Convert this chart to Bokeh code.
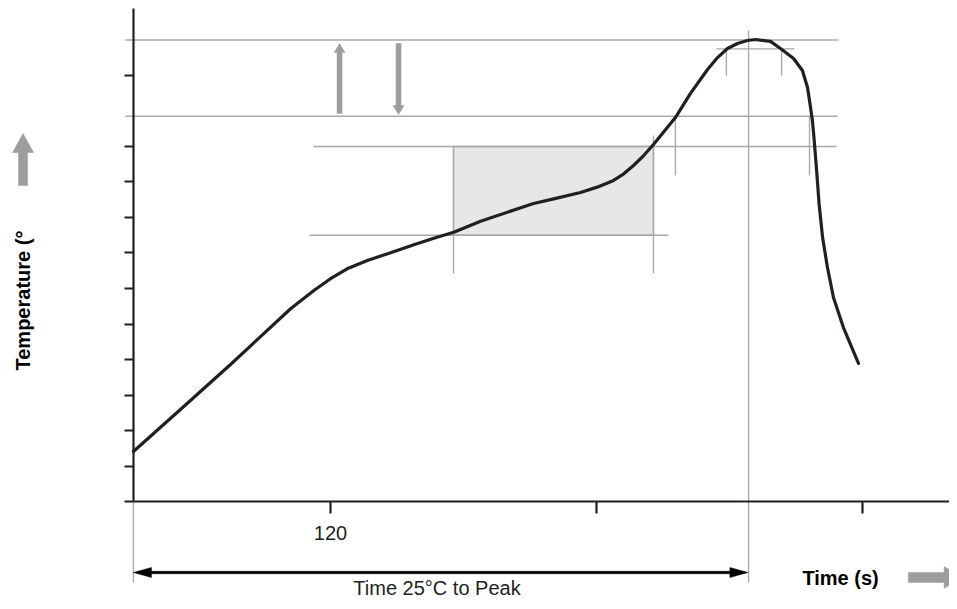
import math
import numpy as np
from bokeh.plotting import figure
from bokeh.models import LinearAxis, FixedTicker, Range1d
from bokeh.embed import file_html
from bokeh.resources import INLINE
from bokeh.core.properties import value

# ---------------- data ----------------
time_s = [31.1, 52.3, 74.9, 102.0, 112.5, 120.0, 127.5, 136.6, 147.1, 157.6,
          166.6, 175.6, 187.7, 211.6, 220.7, 232.8, 240.3, 247.7, 252.3,
          256.7, 261.3, 265.7, 275.6, 282.4, 290.1, 294.6, 299.1, 303.6, 308.1,
          311.7, 318.5, 323.0, 328.9, 332.9, 335.2, 336.3, 337.4, 338.1, 339.3,
          340.4, 342.0, 344.2, 346.9, 351.4, 358.2]
temp_c = [28.2, 51.8, 77.2, 108.6, 118.9, 125.5, 131.1, 135.8, 140.1, 144.6,
          148.3, 151.7, 157.9, 167.9, 170.5, 174.1, 177.1, 180.9, 184.6,
          189.3, 194.9, 201.1, 216.3, 229.9, 243.4, 250.1, 255.2, 258.0, 259.7,
          260.3, 259.2, 255.2, 249.6, 242.8, 233.2, 224.2, 214.7, 205.1, 186.5,
          167.9, 148.7, 131.8, 114.9, 98.0, 77.8]

y_ticks = [0, 20, 40, 60, 80, 100, 120, 140, 160, 180, 200, 240]
x_ticks = [120, 240, 360]
x_tick_labels = {120: "120", 240: "", 360: ""}

# profile reference levels (°C) and times (s)
TS_MIN, TS_MAX, T_L, T_P, T_P5 = 150, 200, 217, 260, 255
t_start = 31.1           # time at 25 °C
ts_start, ts_end = 175.5, 265.7   # preheat window
tl_start, tl_end = 275.6, 336.1   # time above liquidus
tp_start, tp_end = 298.6, 323.5   # time within 5 °C of peak
t_peak = 308.6

# horizontal reference lines: level, x-start, x-end
h_level = [T_P, T_L, TS_MAX, TS_MIN, T_P5]
h_x0 = [27.5, 27.5, 112.3, 110.5, 294.1]
h_x1 = [349.2, 348.7, 348.3, 272.5, 329.3]
# vertical reference lines: time, y-bottom, y-top
v_time = [ts_start, ts_end, tl_start, tl_end, tp_start, tp_end, t_peak, t_start]
v_y0 = [128.5, 128.5, 183.7, 183.7, 240.0, 240.0, -45.6, -45.6]
v_y1 = [TS_MAX, 206.2, T_L, T_L, T_P5, T_P5, 265.4, 0]

# ---------------- geometry ----------------
W, H = 949, 600
X0, X1 = -28.87, 399.25
Y0, Y1 = -55.77, 282.25
SX = W / (X1 - X0)   # px per second
SY = H / (Y1 - Y0)   # px per °C

INK = "#231f20"
GREY_LINE = "#a7a9ac"
GREY_ARROW = "#9d9d9f"
FONT = value("Liberation Sans")


def arrow_poly(x0, y0, x1, y1, shaft_px, head_len, head_w, double=False):
    ax, ay, bx, by = x0 * SX, y0 * SY, x1 * SX, y1 * SY
    L = math.hypot(bx - ax, by - ay)
    ux, uy = (bx - ax) / L, (by - ay) / L
    nx, ny = -uy, ux
    s, hw = shaft_px / 2, head_w / 2

    def pt(px, py):
        return (px / SX, py / SY)

    pts = []
    hbx, hby = bx - ux * head_len, by - uy * head_len
    if double:
        hax, hay = ax + ux * head_len, ay + uy * head_len
        pts += [pt(ax, ay), pt(hax + nx * hw, hay + ny * hw), pt(hax + nx * s, hay + ny * s)]
    else:
        pts += [pt(ax + nx * s, ay + ny * s)]
    pts += [pt(hbx + nx * s, hby + ny * s), pt(hbx + nx * hw, hby + ny * hw), pt(bx, by),
            pt(hbx - nx * hw, hby - ny * hw), pt(hbx - nx * s, hby - ny * s)]
    if double:
        pts += [pt(hax - nx * s, hay - ny * s), pt(hax - nx * hw, hay - ny * hw)]
    else:
        pts += [pt(ax - nx * s, ay - ny * s)]
    return [q[0] for q in pts], [q[1] for q in pts]


p = figure(width=W, height=H, x_range=Range1d(X0, X1), y_range=Range1d(Y0, Y1),
           x_axis_type=None, y_axis_type=None, min_border=0,
           toolbar_location=None, output_backend="svg", outline_line_color=None)
p.background_fill_color = "white"
p.border_fill_color = "white"

# preheat box
p.quad(left=[ts_start], right=[ts_end], bottom=[TS_MIN], top=[TS_MAX],
       fill_color="#e6e7e8", line_color=GREY_LINE, line_width=1.3)

# reference lines
p.segment(x0=h_x0, y0=h_level, x1=h_x1, y1=h_level, line_color=GREY_LINE, line_width=1.4)
p.segment(x0=v_time, y0=v_y0, x1=v_time, y1=v_y1, line_color=GREY_LINE, line_width=1.4)

# profile curve
p.line(time_s, temp_c, line_color=INK, line_width=3.2, line_join="round", line_cap="round")

# arrows
arrows = [
    arrow_poly(-18.7, 178.0, -18.7, 207.3, 9, 19, 21),      # temperature direction
    arrow_poly(380.7, -42.8, 404.5, -42.8, 10, 17, 22),     # time direction
    arrow_poly(124.1, 218.6, 124.1, 258.0, 5, 9, 11),       # ramp-up
    arrow_poly(150.7, 258.0, 150.7, 218.0, 5, 9, 11),       # ramp-down
]
p.patches(xs=[a[0] for a in arrows], ys=[a[1] for a in arrows],
          fill_color=GREY_ARROW, line_color=GREY_ARROW, line_width=0.5)
dx, dy = arrow_poly(t_start, -40.0, 308.3, -40.0, 2.4, 18, 10, double=True)
p.patch(dx, dy, fill_color="black", line_color="black", line_width=0.5)

# texts
p.text(x=[(t_start + t_peak) / 2 - 1.8], y=[-48.6], text=["Time 25°C to Peak"],
       text_font=FONT, text_font_size=value("20px"), text_color=INK,
       text_align="center", text_baseline="alphabetic")
p.text(x=[332.9], y=[-42.9], text=["Time (s)"], text_font=FONT, text_font_style="bold",
       text_font_size=value("20px"), text_color="black",
       text_align="left", text_baseline="alphabetic")
p.text(x=[-18.5], y=[73.8], text=["Temperature (°"], angle=math.pi / 2,
       text_font=FONT, text_font_style="bold", text_font_size=value("20px"),
       text_color="black", text_align="left", text_baseline="alphabetic")

# axes
yax = LinearAxis(fixed_location=t_start, bounds=(0, 277.75),
                 ticker=FixedTicker(ticks=y_ticks),
                 major_label_overrides={t: "" for t in y_ticks},
                 major_label_text_font_size="0px",
                 axis_line_color=INK, axis_line_width=2.2,
                 major_tick_line_color=INK, major_tick_line_width=2.2,
                 major_tick_out=9, major_tick_in=0, minor_tick_out=0, minor_tick_in=0)
xax = LinearAxis(fixed_location=0, bounds=(t_start, X1 + 10),
                 ticker=FixedTicker(ticks=x_ticks),
                 major_label_overrides=x_tick_labels,
                 major_label_text_font="Liberation Sans",
                 major_label_text_font_size="20px", major_label_text_color=INK,
                 major_label_standoff=12,
                 axis_line_color=INK, axis_line_width=2.2,
                 major_tick_line_color=INK, major_tick_line_width=2.2,
                 major_tick_out=12, major_tick_in=0, minor_tick_out=0, minor_tick_in=0)
p.add_layout(yax, "left")
p.add_layout(xax, "below")

open("out.html", "w").write(file_html(p, INLINE))
